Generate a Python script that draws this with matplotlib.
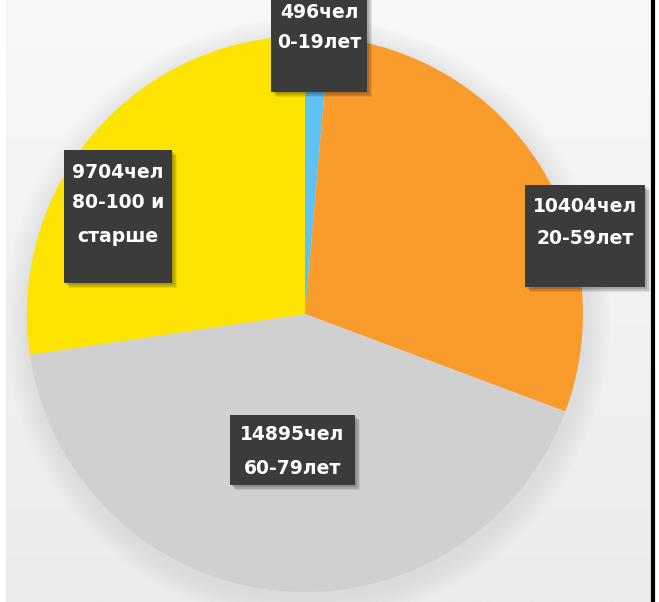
import matplotlib
matplotlib.use("Agg")
import matplotlib.pyplot as plt
import numpy as np
from matplotlib.patches import Rectangle, Circle

# Data (clockwise from 12 o'clock)
categories = ["0-19лет", "20-59лет", "60-79лет", "80-100 и\nстарше"]
counts = [496, 10404, 14895, 9704]
colors = ["#5ec3f2", "#f99c2c", "#d0d0d0", "#fde400"]

W, H = 659, 602
fig = plt.figure(figsize=(W / 100, H / 100), dpi=100)
ax = fig.add_axes([0, 0, 1, 1])

def Y(y):
    return H - y

# background: white outside, light gray gradient panel
fig.patch.set_facecolor("white")
grad = np.linspace(0, 1, 256).reshape(-1, 1)
ax.imshow(grad, extent=(6, 651, 0, H), cmap=matplotlib.colors.LinearSegmentedColormap.from_list(
    "bg", ["#ebebeb", "#f8f8f8"]), origin="lower", aspect="auto", zorder=0)
ax.plot([652.5, 652.5], [0, H], color="black", lw=3, zorder=5, solid_capstyle="butt")

cx, cy, r = 305, Y(314), 278
# soft shadow around pie
for k in range(10):
    ax.add_patch(Circle((cx + 2, cy - 6), r + 2 + k * 2.5, color="#c8c8c8",
                        alpha=0.045, lw=0, zorder=1))

ax.pie(counts, colors=colors, startangle=90, counterclock=False,
       center=(cx, cy), radius=r, frame=True,
       wedgeprops=dict(linewidth=0, zorder=2))
ax.set_xlim(0, W)
ax.set_ylim(0, H)
ax.set_aspect("auto")
ax.axis("off")

boxes = [
    # (x0, y0, x1, y1, text lines y, label idx)
    (271, -5, 367, 92, [12, 42], 0),
    (525, 185, 645, 287, [207, 238], 1),
    (230, 415, 355, 485, [435, 468], 2),
    (64, 150, 172, 283, [172, 203, 237], 3),
]
for x0, y0, x1, y1, ys, i in boxes:
    for s, a in [(5, 0.08), (3.5, 0.12), (2, 0.15)]:
        ax.add_patch(Rectangle((x0 + s, Y(y1) - s), x1 - x0, y1 - y0,
                               color="#000000", alpha=a, lw=0, zorder=3))
    ax.add_patch(Rectangle((x0, Y(y1)), x1 - x0, y1 - y0,
                           color="#3b3b3b", lw=0, zorder=4))
    lines = [f"{counts[i]}чел"] + categories[i].split("\n")
    xc = (x0 + x1) / 2
    for ly, t in zip(ys, lines):
        ax.text(xc, Y(ly), t, color="white", fontsize=13.5, fontweight="bold",
                ha="center", va="center", family="DejaVu Sans", zorder=6)

fig.savefig("out.png", dpi=100)
